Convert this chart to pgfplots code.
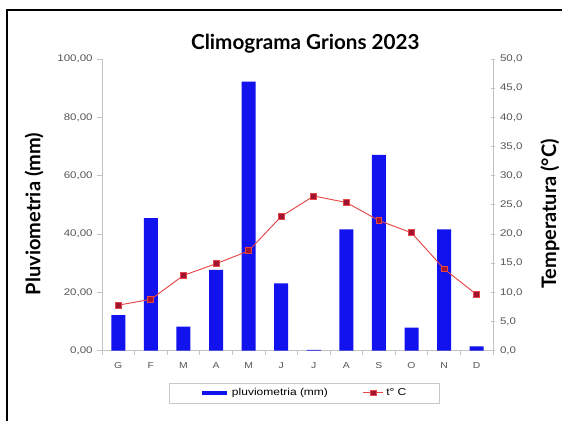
\documentclass[border=0pt]{standalone}
\usepackage{fontspec}
\setmainfont{Lato}
\newfontfamily\arialw[FakeStretch=1.2]{Liberation Sans}
\usepackage{pgfplots}
\pgfplotsset{compat=1.18}
\definecolor{barblue}{RGB}{18,18,238}
\definecolor{tred}{RGB}{230,70,70}
\definecolor{tdark}{RGB}{160,20,50}
\definecolor{axgray}{RGB}{195,195,195}
\definecolor{tickgray}{RGB}{85,85,85}
\definecolor{leggray}{RGB}{200,200,200}
\begin{document}
\begin{tikzpicture}
\useasboundingbox (-76.5pt,-52.7pt) rectangle (345pt,263pt);
\draw[line width=1.1pt] (-71.25pt,255.5pt) rectangle (360pt,-70pt);
\pgfplotsset{
  base/.style={
    at={(0pt,0pt)}, anchor=south west, scale only axis,
    width=293.25pt, height=218.8pt,
    xmin=-0.5, xmax=11.5,
    axis line style={draw=axgray, line width=0.7pt, -},
    tick style={draw=axgray, line width=0.6pt},
    tick align=outside,
    major tick length=3.5pt,
    /pgf/number format/assume math mode=true,
    yticklabel style={font=\arialw\fontsize{7.2}{8}\selectfont, text=tickgray},
  }
}
\begin{axis}[base,
  ymin=0, ymax=100,
  axis y line*=left, axis x line*=bottom,
  ytick={0,20,...,100},
  yticklabel={\pgfmathprintnumber[fixed,fixed zerofill,precision=2,use comma,assume math mode=true]{\tick}},
  xtick={0,...,11},
  xticklabels={G,F,M,A,M,J,J,A,S,O,N,D},
  xticklabel style={font=\arialw\fontsize{6.5}{7}\selectfont, text=tickgray, yshift=-2pt},
  x tick style={draw=none},
  minor xtick={-0.5,0.5,...,11.5},
  minor x tick style={draw=axgray},
  minor tick length=3pt,
  legend columns=2,
  legend style={at={(0.518,-0.145)}, anchor=center, draw=leggray, line width=0.6pt,
    font=\arialw\fontsize{7.5}{9}\selectfont, inner xsep=23pt, inner ysep=2pt,
    /tikz/every even column/.append style={column sep=24pt}},
]
\addplot[ybar, bar width=10.5pt, fill=barblue, draw=none,
  legend image code/.code={\draw[line width=3pt, barblue] (0pt,0pt) -- (19pt,0pt);}]
  coordinates {(0,12.2) (1,45.4) (2,8.2) (3,27.7) (4,92.2) (5,23.1) (6,0.3) (7,41.6) (8,67.1) (9,7.9) (10,41.6) (11,1.5)};
\addlegendentry{pluviometria (mm)}
\addlegendimage{tred, line width=0.7pt, mark=square*, mark size=2.2pt, mark options={fill=tdark, draw=tred},
  legend image code/.code={\draw[tred, line width=0.7pt] (0pt,0pt) -- (15pt,0pt); \draw[fill=tdark, draw=tred] (5.3pt,-2.2pt) rectangle (9.7pt,2.2pt);}}
\addlegendentry{t\textdegree\ C}
\end{axis}
\begin{axis}[base,
  ymin=0, ymax=50,
  axis y line*=right, axis x line=none,
  ytick={0,5,...,50},
  yticklabel={\pgfmathprintnumber[fixed,fixed zerofill,precision=1,use comma,assume math mode=true]{\tick}},
  tick align=center,
]
\addplot[tred, line width=0.7pt, mark=square*, mark size=2.2pt, mark options={fill=tdark, draw=tred}]
  coordinates {(0,7.8) (1,8.8) (2,12.9) (3,14.9) (4,17.1) (5,23.0) (6,26.5) (7,25.4) (8,22.3) (9,20.2) (10,14.0) (11,9.6)};
\end{axis}
\node[font=\bfseries\fontsize{15.5}{17}\selectfont] at (152.5pt,230pt) {Climograma Grions 2023};
\node[font=\bfseries\fontsize{15}{17}\selectfont, rotate=90] at (-51pt,102.5pt) {Pluviometria (mm)};
\node[font=\bfseries\fontsize{15}{17}\selectfont, rotate=90] at (336pt,102.5pt) {Temperatura (\textdegree C)};
\end{tikzpicture}
\end{document}
